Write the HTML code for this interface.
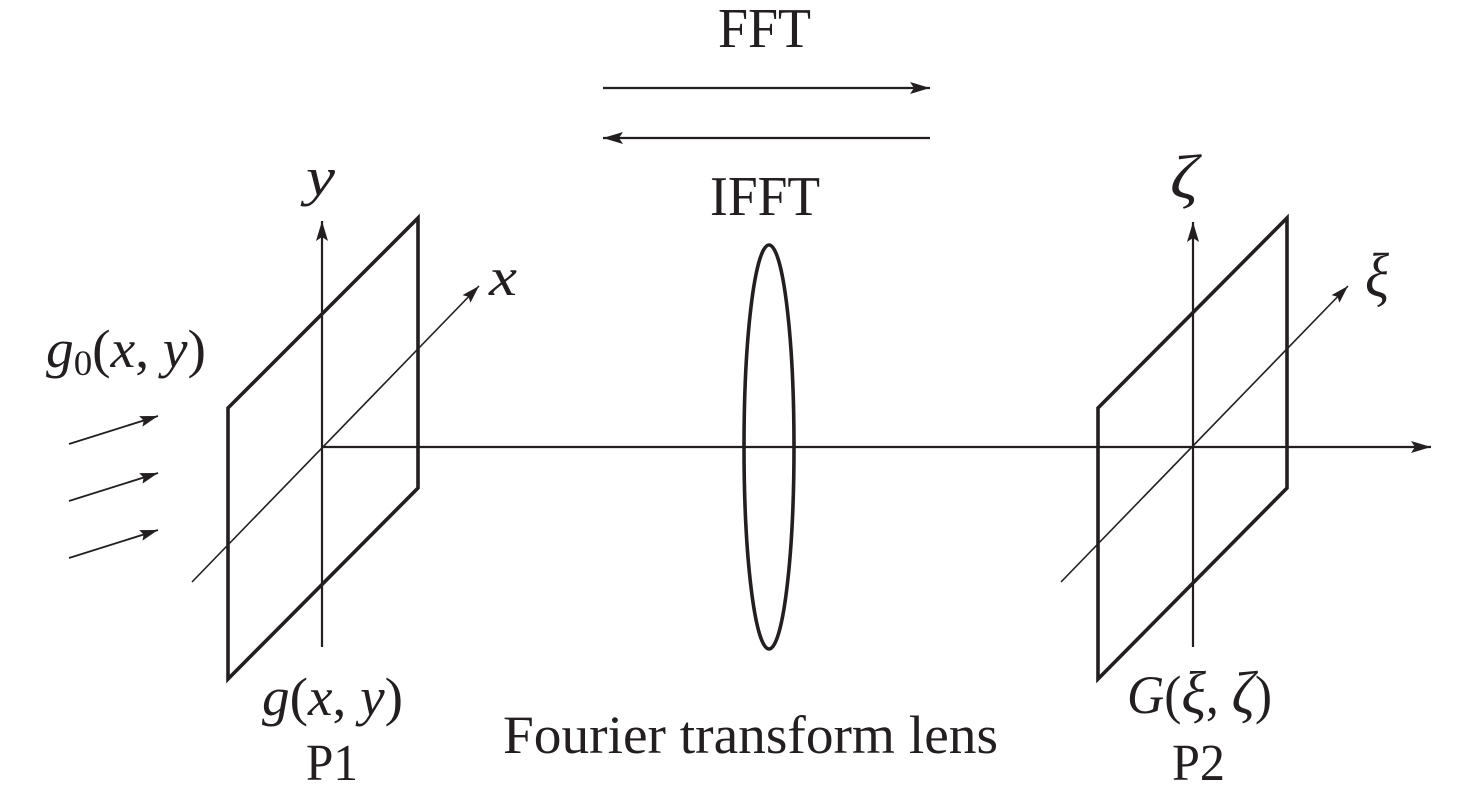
<!DOCTYPE html>
<html>
<head>
<meta charset="utf-8">
<style>
  html, body { margin:0; padding:0; background:#ffffff; }
  svg { display:block; }
  text { font-family: "Liberation Serif", "DejaVu Serif", serif; fill:#231f20; }
  .it { font-style: italic; }
</style>
</head>
<body>
<svg width="1476" height="798" viewBox="0 0 1476 798" xmlns="http://www.w3.org/2000/svg">
  <defs>
    <marker id="ah" viewBox="0 0 20 12" refX="20" refY="6" markerWidth="20" markerHeight="12" markerUnits="userSpaceOnUse" orient="auto">
      <path d="M0,0 L20,6 L0,12 L4,6 Z" fill="#231f20"/>
    </marker>
    <marker id="ahs" viewBox="0 0 18 11" refX="18" refY="5.5" markerWidth="18" markerHeight="11" markerUnits="userSpaceOnUse" orient="auto">
      <path d="M0,0 L18,5.5 L0,11 L3,5.5 Z" fill="#231f20"/>
    </marker>
  </defs>

  <g stroke="#231f20" fill="none" stroke-linecap="butt">
    <!-- top arrows -->
    <line x1="603" y1="88" x2="930" y2="88" stroke-width="2.2" marker-end="url(#ah)"/>
    <line x1="930" y1="138" x2="603" y2="138" stroke-width="2.2" marker-end="url(#ah)"/>

    <!-- main horizontal axis -->
    <line x1="322" y1="447" x2="1431" y2="447" stroke-width="2.2" marker-end="url(#ah)"/>

    <!-- Left plane -->
    <polygon points="228,408 418,218 418,488 228,679" stroke-width="3.6" stroke-linejoin="miter"/>
    <line x1="322" y1="647" x2="322" y2="221" stroke-width="2.2" marker-end="url(#ah)"/>
    <line x1="192" y1="582" x2="479" y2="286" stroke-width="1.6" marker-end="url(#ahs)"/>

    <!-- incoming arrows -->
    <line x1="69" y1="444" x2="158" y2="416" stroke-width="1.8" marker-end="url(#ahs)"/>
    <line x1="69" y1="501" x2="158" y2="473" stroke-width="1.8" marker-end="url(#ahs)"/>
    <line x1="69" y1="558" x2="158" y2="530" stroke-width="1.8" marker-end="url(#ahs)"/>

    <!-- Lens -->
    <ellipse cx="769" cy="447" rx="25" ry="202" stroke-width="3.6"/>

    <!-- Right plane -->
    <polygon points="1098,408 1287,218 1287,488 1098,679" stroke-width="3.6" stroke-linejoin="miter"/>
    <line x1="1193" y1="647" x2="1193" y2="222" stroke-width="2.2" marker-end="url(#ah)"/>
    <line x1="1061" y1="582" x2="1348" y2="286" stroke-width="1.6" marker-end="url(#ahs)"/>
  </g>

  <!-- Labels -->
  <text x="718" y="47" font-size="56" textLength="93" lengthAdjust="spacingAndGlyphs">FFT</text>
  <text x="710" y="215" font-size="56" textLength="110" lengthAdjust="spacingAndGlyphs">IFFT</text>

  <text class="it" x="306" y="195" font-size="54" textLength="29" lengthAdjust="spacingAndGlyphs">y</text>
  <text class="it" x="489" y="295" font-size="54" textLength="28" lengthAdjust="spacingAndGlyphs">x</text>

  <text class="it" x="1170" y="198" font-size="62" textLength="28" lengthAdjust="spacingAndGlyphs">ζ</text>
  <text class="it" x="1365" y="296" font-size="62" textLength="24" lengthAdjust="spacingAndGlyphs">ξ</text>

  <text x="46" y="367" font-size="54" textLength="160" lengthAdjust="spacingAndGlyphs"><tspan class="it">g</tspan><tspan font-size="36" dy="8">0</tspan><tspan dy="-8">(</tspan><tspan class="it">x</tspan>, <tspan class="it">y</tspan>)</text>

  <text x="262" y="715" font-size="54" textLength="141" lengthAdjust="spacingAndGlyphs"><tspan class="it">g</tspan>(<tspan class="it">x</tspan>, <tspan class="it">y</tspan>)</text>
  <text x="306" y="780" font-size="52" textLength="52" lengthAdjust="spacingAndGlyphs">P1</text>

  <text x="503" y="753" font-size="54" textLength="495" lengthAdjust="spacingAndGlyphs">Fourier transform lens</text>

  <text x="1127" y="713" font-size="54" textLength="145" lengthAdjust="spacingAndGlyphs"><tspan class="it">G</tspan>(<tspan class="it" font-size="60">ξ</tspan>, <tspan class="it" font-size="60">ζ</tspan>)</text>
  <text x="1172" y="780" font-size="52" textLength="53" lengthAdjust="spacingAndGlyphs">P2</text>
</svg>
</body>
</html>
